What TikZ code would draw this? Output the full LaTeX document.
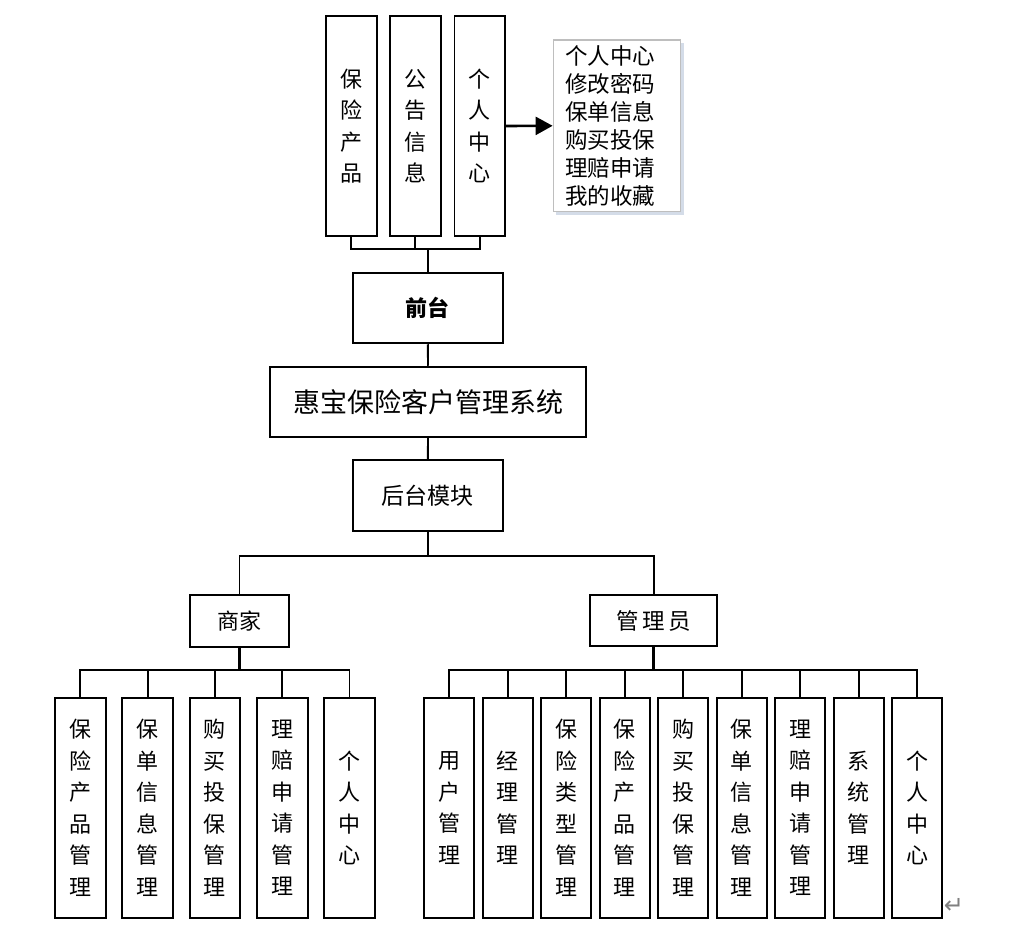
\documentclass[tikz,border=0pt]{standalone}
\usepackage{fontspec}
\setmainfont{Noto Sans CJK SC}
\newfontfamily\dejavu{DejaVu Sans}
\usetikzlibrary{arrows.meta,shadows}
\definecolor{shadowc}{RGB}{212,220,232}
\definecolor{listborder}{RGB}{190,190,190}
\tikzset{
  box/.style={draw, line width=1.9pt, inner sep=0pt, align=center, fill=white},
  vbox/.style={box, minimum width=50.5pt, minimum height=220pt,
    font=\fontsize{22}{31.5}\selectfont},
  conn/.style={line width=1.9pt},
  thickconn/.style={line width=2.9pt},
}
\begin{document}
\begin{tikzpicture}[x=1pt,y=-1pt]
\useasboundingbox (0,0) rectangle (1019,925);
\fill[white] (0,0) rectangle (1019,925);

% top module boxes
\node[vbox] (p1) at (351.3,126) {保\\险\\产\\品};
\node[vbox] (p2) at (415.3,126) {公\\告\\信\\息};
\node[vbox] (p3) at (479.7,126) {个\\人\\中\\心};

\node[draw=listborder, line width=1.4pt, fill=white, inner xsep=12pt, inner ysep=0pt,
      text width=103.4pt, minimum height=171.7pt, align=left,
      font=\fontsize{22.5}{28}\selectfont,
      drop shadow={shadow xshift=3pt, shadow yshift=-3pt, fill=shadowc, opacity=1}]
  (list) at (617,125.8) {个人中心\\修改密码\\保单信息\\购买投保\\理赔申请\\我的收藏};

\node[box, minimum width=149.7pt, minimum height=70pt,
      font=\fontsize{22}{26}\selectfont\bfseries] (front) at (427.85,308.3) {前台};
\node[box, minimum width=316.6pt, minimum height=70.3pt,
      font=\fontsize{27}{30}\selectfont] (sys) at (428,401.85) {惠宝保险客户管理系统};
\node[box, minimum width=149.7pt, minimum height=70.4pt,
      font=\fontsize{23}{26}\selectfont] (back) at (427.85,495.5) {后台模块};
\node[box, minimum width=99.6pt, minimum height=52pt,
      font=\fontsize{22}{26}\selectfont] (merchant) at (239.5,620.7) {商家};
\node[box, minimum width=127pt, minimum height=51.6pt,
      font=\fontsize{22.5}{26}\selectfont] (admin) at (653.8,620.5) {管\,理\,员};

% merchant children
\foreach \t [count=\i] in {{保\\险\\产\\品\\管\\理},{保\\单\\信\\息\\管\\理},{购\\买\\投\\保\\管\\理},{理\\赔\\申\\请\\管\\理},{个\\人\\中\\心}}
  \node[vbox, minimum width=50.7pt, minimum height=219.7pt] (m\i) at ({80.3+67.3*(\i-1)},808) {\t};

% admin children
\foreach \t [count=\i] in {{用\\户\\管\\理},{经\\理\\管\\理},{保\\险\\类\\型\\管\\理},{保\\险\\产\\品\\管\\理},{购\\买\\投\\保\\管\\理},{保\\单\\信\\息\\管\\理},{理\\赔\\申\\请\\管\\理},{系\\统\\管\\理},{个\\人\\中\\心}}
  \node[vbox, minimum width=50.3pt, minimum height=220pt] (a\i) at ({449.2+58.5*(\i-1)},808) {\t};

% top connectors
\coordinate (tj) at (427.85,249.3);
\draw[conn] (p1.south) |- (tj) -| (p3.south);
\draw[conn] (p2.south) -- (p2.south |- tj);
\draw[conn] (tj) -- (front.north);
\draw[line width=2.6pt, -{Triangle[length=17pt,width=18pt]}] (p3.east) -- (list.west);

% spine
\draw[conn] (front.south) -- (sys.north);
\draw[conn] (sys.south) -- (back.north);

% back branch
\coordinate (bj) at (427.85,556.3);
\draw[conn] (back.south) -- (bj);
\draw[conn] (merchant.north) |- (bj) -| (admin.north);

% merchant branch
\coordinate (lj) at (239.5,670);
\draw[thickconn] (merchant.south) -- (lj);
\draw[conn] (m1.north) |- (lj) -| (m5.north);
\foreach \i in {2,3,4} \draw[conn] (m\i.north) -- (m\i.north |- lj);

% admin branch
\coordinate (rj) at (653.8,670);
\draw[thickconn] (admin.south) -- (rj);
\draw[conn] (a1.north) |- (rj) -| (a9.north);
\foreach \i in {2,...,8} \draw[conn] (a\i.north) -- (a\i.north |- rj);

% paragraph mark
\node[text=gray, font=\dejavu\fontsize{24}{24}\selectfont, inner sep=0pt] (pm) at (954,906) {↵};
\end{tikzpicture}
\end{document}
